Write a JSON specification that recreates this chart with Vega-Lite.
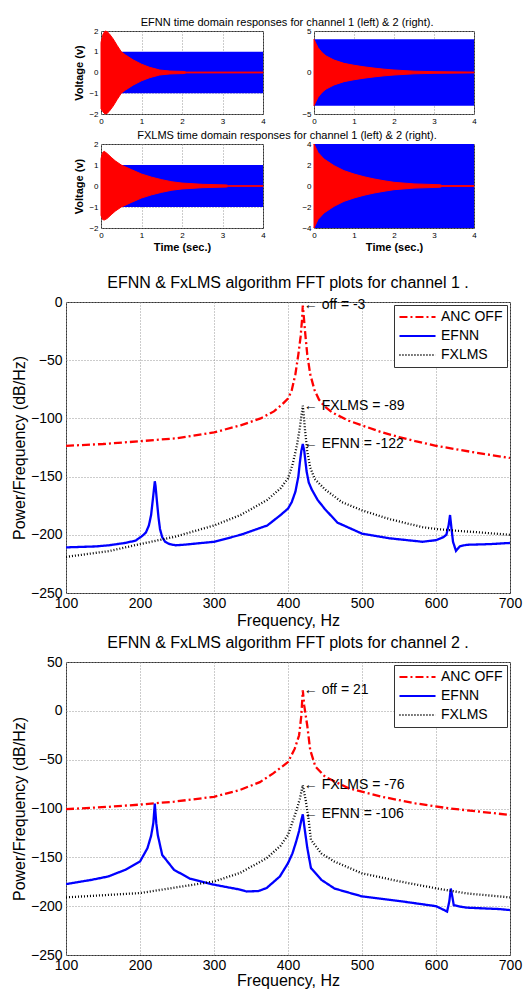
{
"$schema": "https://vega.github.io/schema/vega-lite/v6.json",
"background": "white",
"padding": {"left": 10, "top": 16, "right": 4, "bottom": 4},
"spacing": 21,
"resolve": {"scale": {"x": "independent", "y": "independent", "color": "independent", "strokeDash": "independent"}, "legend": {"color": "independent", "strokeDash": "independent"}},
"datasets": {
"td": [
{"p":"E1","s":"band","t":0,"hi":1,"lo":-1},{"p":"E1","s":"band","t":4,"hi":1,"lo":-1},
{"p":"E1","s":"resp","t":0,"hi":1.45,"lo":-1.75},{"p":"E1","s":"resp","t":0.05,"hi":1.85,"lo":-1.9},{"p":"E1","s":"resp","t":0.1,"hi":2.0,"lo":-2.0},{"p":"E1","s":"resp","t":0.15,"hi":1.97,"lo":-1.97},{"p":"E1","s":"resp","t":0.2,"hi":1.88,"lo":-1.88},{"p":"E1","s":"resp","t":0.3,"hi":1.62,"lo":-1.62},{"p":"E1","s":"resp","t":0.4,"hi":1.3,"lo":-1.3},{"p":"E1","s":"resp","t":0.5,"hi":1.0,"lo":-1.0},{"p":"E1","s":"resp","t":0.6,"hi":0.85,"lo":-0.85},{"p":"E1","s":"resp","t":0.8,"hi":0.6,"lo":-0.6},{"p":"E1","s":"resp","t":1.0,"hi":0.4,"lo":-0.4},{"p":"E1","s":"resp","t":1.2,"hi":0.25,"lo":-0.25},{"p":"E1","s":"resp","t":1.45,"hi":0.12,"lo":-0.12},{"p":"E1","s":"resp","t":1.7,"hi":0.07,"lo":-0.07},{"p":"E1","s":"resp","t":2.05,"hi":0.05,"lo":-0.05},{"p":"E1","s":"resp","t":2.1,"hi":0.02,"lo":-0.02},{"p":"E1","s":"resp","t":4,"hi":0.02,"lo":-0.02},
{"p":"E2","s":"band","t":0,"hi":4,"lo":-4},{"p":"E2","s":"band","t":4,"hi":4,"lo":-4},
{"p":"E2","s":"resp","t":0,"hi":4.0,"lo":-4.0},{"p":"E2","s":"resp","t":0.05,"hi":3.5,"lo":-3.5},{"p":"E2","s":"resp","t":0.1,"hi":3.0,"lo":-3.0},{"p":"E2","s":"resp","t":0.2,"hi":2.4,"lo":-2.4},{"p":"E2","s":"resp","t":0.3,"hi":2.0,"lo":-2.0},{"p":"E2","s":"resp","t":0.5,"hi":1.5,"lo":-1.5},{"p":"E2","s":"resp","t":0.75,"hi":1.1,"lo":-1.1},{"p":"E2","s":"resp","t":1.0,"hi":0.87,"lo":-0.87},{"p":"E2","s":"resp","t":1.25,"hi":0.68,"lo":-0.68},{"p":"E2","s":"resp","t":1.5,"hi":0.53,"lo":-0.53},{"p":"E2","s":"resp","t":1.75,"hi":0.4,"lo":-0.4},{"p":"E2","s":"resp","t":2.0,"hi":0.3,"lo":-0.3},{"p":"E2","s":"resp","t":2.5,"hi":0.16,"lo":-0.16},{"p":"E2","s":"resp","t":3.0,"hi":0.1,"lo":-0.1},{"p":"E2","s":"resp","t":4,"hi":0.05,"lo":-0.05},
{"p":"F1","s":"band","t":0,"hi":1,"lo":-1},{"p":"F1","s":"band","t":4,"hi":1,"lo":-1},
{"p":"F1","s":"resp","t":0,"hi":1.3,"lo":-1.4},{"p":"F1","s":"resp","t":0.04,"hi":1.6,"lo":-1.6},{"p":"F1","s":"resp","t":0.08,"hi":1.65,"lo":-1.62},{"p":"F1","s":"resp","t":0.15,"hi":1.55,"lo":-1.55},{"p":"F1","s":"resp","t":0.25,"hi":1.37,"lo":-1.37},{"p":"F1","s":"resp","t":0.35,"hi":1.2,"lo":-1.2},{"p":"F1","s":"resp","t":0.5,"hi":1.0,"lo":-1.0},{"p":"F1","s":"resp","t":0.75,"hi":0.78,"lo":-0.78},{"p":"F1","s":"resp","t":1.0,"hi":0.57,"lo":-0.57},{"p":"F1","s":"resp","t":1.25,"hi":0.42,"lo":-0.42},{"p":"F1","s":"resp","t":1.5,"hi":0.3,"lo":-0.3},{"p":"F1","s":"resp","t":1.75,"hi":0.2,"lo":-0.2},{"p":"F1","s":"resp","t":2.0,"hi":0.14,"lo":-0.14},{"p":"F1","s":"resp","t":2.5,"hi":0.08,"lo":-0.08},{"p":"F1","s":"resp","t":3.1,"hi":0.05,"lo":-0.05},{"p":"F1","s":"resp","t":3.15,"hi":0.015,"lo":-0.015},{"p":"F1","s":"resp","t":4,"hi":0.015,"lo":-0.015},
{"p":"F2","s":"band","t":0,"hi":4,"lo":-4},{"p":"F2","s":"band","t":4,"hi":4,"lo":-4},
{"p":"F2","s":"resp","t":0,"hi":4.0,"lo":-4.0},{"p":"F2","s":"resp","t":0.1,"hi":3.2,"lo":-3.2},{"p":"F2","s":"resp","t":0.25,"hi":2.57,"lo":-2.57},{"p":"F2","s":"resp","t":0.5,"hi":1.94,"lo":-1.94},{"p":"F2","s":"resp","t":0.75,"hi":1.46,"lo":-1.46},{"p":"F2","s":"resp","t":1.0,"hi":1.14,"lo":-1.14},{"p":"F2","s":"resp","t":1.25,"hi":0.88,"lo":-0.88},{"p":"F2","s":"resp","t":1.5,"hi":0.67,"lo":-0.67},{"p":"F2","s":"resp","t":1.75,"hi":0.5,"lo":-0.5},{"p":"F2","s":"resp","t":2.0,"hi":0.35,"lo":-0.35},{"p":"F2","s":"resp","t":2.5,"hi":0.2,"lo":-0.2},{"p":"F2","s":"resp","t":3.15,"hi":0.12,"lo":-0.12},{"p":"F2","s":"resp","t":3.2,"hi":0.04,"lo":-0.04},{"p":"F2","s":"resp","t":4,"hi":0.04,"lo":-0.04}
],
"fft1": [
{"s":"ANC OFF","f":100,"v":-123.6},{"s":"ANC OFF","f":150,"v":-122},{"s":"ANC OFF","f":200,"v":-119.6},{"s":"ANC OFF","f":250,"v":-117},{"s":"ANC OFF","f":300,"v":-112},{"s":"ANC OFF","f":336,"v":-106},{"s":"ANC OFF","f":363,"v":-100},{"s":"ANC OFF","f":381,"v":-94},{"s":"ANC OFF","f":392,"v":-88},{"s":"ANC OFF","f":400,"v":-83},{"s":"ANC OFF","f":405,"v":-76},{"s":"ANC OFF","f":410,"v":-62},{"s":"ANC OFF","f":414,"v":-45},{"s":"ANC OFF","f":417,"v":-30},{"s":"ANC OFF","f":419,"v":-15},{"s":"ANC OFF","f":420,"v":-3},{"s":"ANC OFF","f":421,"v":-10},{"s":"ANC OFF","f":423,"v":-25},{"s":"ANC OFF","f":426,"v":-45},{"s":"ANC OFF","f":430,"v":-62},{"s":"ANC OFF","f":436,"v":-76},{"s":"ANC OFF","f":442,"v":-84},{"s":"ANC OFF","f":450,"v":-90},{"s":"ANC OFF","f":460,"v":-95},{"s":"ANC OFF","f":482,"v":-102},{"s":"ANC OFF","f":500,"v":-106},{"s":"ANC OFF","f":527,"v":-112},{"s":"ANC OFF","f":550,"v":-116},{"s":"ANC OFF","f":572,"v":-119.5},{"s":"ANC OFF","f":600,"v":-123.5},{"s":"ANC OFF","f":650,"v":-129},{"s":"ANC OFF","f":700,"v":-134},
{"s":"EFNN","f":100,"v":-210.8},{"s":"EFNN","f":140,"v":-210},{"s":"EFNN","f":158,"v":-209},{"s":"EFNN","f":180,"v":-207},{"s":"EFNN","f":194,"v":-205},{"s":"EFNN","f":203,"v":-201},{"s":"EFNN","f":208,"v":-198},{"s":"EFNN","f":212,"v":-192},{"s":"EFNN","f":215,"v":-183},{"s":"EFNN","f":218,"v":-166},{"s":"EFNN","f":220,"v":-154},{"s":"EFNN","f":221,"v":-158},{"s":"EFNN","f":223,"v":-172},{"s":"EFNN","f":225,"v":-185},{"s":"EFNN","f":227,"v":-195},{"s":"EFNN","f":230,"v":-202},{"s":"EFNN","f":234,"v":-206},{"s":"EFNN","f":240,"v":-208},{"s":"EFNN","f":248,"v":-209},{"s":"EFNN","f":260,"v":-208.5},{"s":"EFNN","f":300,"v":-206},{"s":"EFNN","f":336,"v":-200},{"s":"EFNN","f":372,"v":-192},{"s":"EFNN","f":390,"v":-183},{"s":"EFNN","f":400,"v":-177.5},{"s":"EFNN","f":405,"v":-172},{"s":"EFNN","f":410,"v":-163},{"s":"EFNN","f":414,"v":-150},{"s":"EFNN","f":416,"v":-138},{"s":"EFNN","f":418,"v":-128},{"s":"EFNN","f":420,"v":-122},{"s":"EFNN","f":422,"v":-128},{"s":"EFNN","f":425,"v":-145},{"s":"EFNN","f":428,"v":-155},{"s":"EFNN","f":432,"v":-161},{"s":"EFNN","f":440,"v":-170},{"s":"EFNN","f":450,"v":-178},{"s":"EFNN","f":467,"v":-189.6},{"s":"EFNN","f":500,"v":-199},{"s":"EFNN","f":537,"v":-203},{"s":"EFNN","f":582,"v":-206},{"s":"EFNN","f":600,"v":-204.6},{"s":"EFNN","f":610,"v":-202},{"s":"EFNN","f":614,"v":-200},{"s":"EFNN","f":617,"v":-192},{"s":"EFNN","f":619,"v":-183},{"s":"EFNN","f":621,"v":-195},{"s":"EFNN","f":623,"v":-206},{"s":"EFNN","f":627,"v":-213.8},{"s":"EFNN","f":632,"v":-210},{"s":"EFNN","f":641,"v":-208.6},{"s":"EFNN","f":673,"v":-208},{"s":"EFNN","f":700,"v":-207},
{"s":"FXLMS","f":100,"v":-219},{"s":"FXLMS","f":158,"v":-214},{"s":"FXLMS","f":200,"v":-208},{"s":"FXLMS","f":248,"v":-201.5},{"s":"FXLMS","f":300,"v":-192},{"s":"FXLMS","f":336,"v":-183},{"s":"FXLMS","f":372,"v":-170},{"s":"FXLMS","f":390,"v":-160},{"s":"FXLMS","f":400,"v":-151.5},{"s":"FXLMS","f":406,"v":-140},{"s":"FXLMS","f":412,"v":-123.5},{"s":"FXLMS","f":416,"v":-108},{"s":"FXLMS","f":418,"v":-98},{"s":"FXLMS","f":420,"v":-89},{"s":"FXLMS","f":421,"v":-95},{"s":"FXLMS","f":423,"v":-110},{"s":"FXLMS","f":426,"v":-128},{"s":"FXLMS","f":430,"v":-142},{"s":"FXLMS","f":436,"v":-152},{"s":"FXLMS","f":450,"v":-161},{"s":"FXLMS","f":473,"v":-172},{"s":"FXLMS","f":500,"v":-179},{"s":"FXLMS","f":537,"v":-186.5},{"s":"FXLMS","f":582,"v":-193.5},{"s":"FXLMS","f":600,"v":-195},{"s":"FXLMS","f":627,"v":-196.5},{"s":"FXLMS","f":660,"v":-198},{"s":"FXLMS","f":700,"v":-200}
],
"fft2": [
{"s":"ANC OFF","f":100,"v":-100.7},{"s":"ANC OFF","f":157,"v":-98.3},{"s":"ANC OFF","f":200,"v":-96},{"s":"ANC OFF","f":246,"v":-93},{"s":"ANC OFF","f":300,"v":-88},{"s":"ANC OFF","f":335,"v":-81},{"s":"ANC OFF","f":362,"v":-73},{"s":"ANC OFF","f":380,"v":-64},{"s":"ANC OFF","f":400,"v":-52.5},{"s":"ANC OFF","f":409,"v":-39},{"s":"ANC OFF","f":415,"v":-25},{"s":"ANC OFF","f":418,"v":-5},{"s":"ANC OFF","f":420,"v":21},{"s":"ANC OFF","f":422,"v":5},{"s":"ANC OFF","f":424,"v":-5},{"s":"ANC OFF","f":426,"v":-15},{"s":"ANC OFF","f":430,"v":-40},{"s":"ANC OFF","f":437,"v":-57},{"s":"ANC OFF","f":450,"v":-67.4},{"s":"ANC OFF","f":482,"v":-79.4},{"s":"ANC OFF","f":527,"v":-88},{"s":"ANC OFF","f":572,"v":-94.7},{"s":"ANC OFF","f":617,"v":-99.8},{"s":"ANC OFF","f":700,"v":-106.6},
{"s":"EFNN","f":100,"v":-177.4},{"s":"EFNN","f":135,"v":-173},{"s":"EFNN","f":157,"v":-169.6},{"s":"EFNN","f":180,"v":-162.8},{"s":"EFNN","f":200,"v":-154.3},{"s":"EFNN","f":210,"v":-140.8},{"s":"EFNN","f":215,"v":-128},{"s":"EFNN","f":218,"v":-115},{"s":"EFNN","f":220,"v":-95},{"s":"EFNN","f":222,"v":-115},{"s":"EFNN","f":224,"v":-127},{"s":"EFNN","f":230,"v":-147.5},{"s":"EFNN","f":246,"v":-162.8},{"s":"EFNN","f":268,"v":-172},{"s":"EFNN","f":300,"v":-178},{"s":"EFNN","f":335,"v":-183},{"s":"EFNN","f":344,"v":-185},{"s":"EFNN","f":360,"v":-184.5},{"s":"EFNN","f":371,"v":-181.5},{"s":"EFNN","f":389,"v":-169.6},{"s":"EFNN","f":400,"v":-156},{"s":"EFNN","f":406,"v":-146},{"s":"EFNN","f":411,"v":-134},{"s":"EFNN","f":415,"v":-123},{"s":"EFNN","f":418,"v":-112},{"s":"EFNN","f":420,"v":-106},{"s":"EFNN","f":422,"v":-118},{"s":"EFNN","f":426,"v":-140},{"s":"EFNN","f":431,"v":-161},{"s":"EFNN","f":445,"v":-173},{"s":"EFNN","f":463,"v":-182},{"s":"EFNN","f":500,"v":-190},{"s":"EFNN","f":553,"v":-195},{"s":"EFNN","f":600,"v":-200},{"s":"EFNN","f":611,"v":-204},{"s":"EFNN","f":615,"v":-205.6},{"s":"EFNN","f":618,"v":-195},{"s":"EFNN","f":620,"v":-182},{"s":"EFNN","f":622,"v":-190},{"s":"EFNN","f":624,"v":-199},{"s":"EFNN","f":633,"v":-200.5},{"s":"EFNN","f":641,"v":-201.5},{"s":"EFNN","f":686,"v":-203},{"s":"EFNN","f":700,"v":-204},
{"s":"FXLMS","f":100,"v":-191},{"s":"FXLMS","f":200,"v":-186.6},{"s":"FXLMS","f":300,"v":-174.7},{"s":"FXLMS","f":335,"v":-166},{"s":"FXLMS","f":371,"v":-151},{"s":"FXLMS","f":390,"v":-138},{"s":"FXLMS","f":400,"v":-127},{"s":"FXLMS","f":411,"v":-103},{"s":"FXLMS","f":416,"v":-90},{"s":"FXLMS","f":420,"v":-76},{"s":"FXLMS","f":424,"v":-92},{"s":"FXLMS","f":428,"v":-112},{"s":"FXLMS","f":431,"v":-132},{"s":"FXLMS","f":445,"v":-146},{"s":"FXLMS","f":463,"v":-154.4},{"s":"FXLMS","f":500,"v":-166.4},{"s":"FXLMS","f":553,"v":-175},{"s":"FXLMS","f":600,"v":-181.7},{"s":"FXLMS","f":641,"v":-186.9},{"s":"FXLMS","f":700,"v":-191}
],
"ann1": [
{"f":420,"v":-3,"label":"← off = -3"},{"f":420,"v":-89,"label":"← FXLMS = -89"},{"f":420,"v":-122,"label":"← EFNN = -122"}
],
"ann2": [
{"f":420,"v":21,"label":"← off = 21"},{"f":420,"v":-76,"label":"← FXLMS = -76"},{"f":420,"v":-106,"label":"← EFNN = -106"}
]
},
"vconcat": [
{
"spacing": 3,
"resolve": {"scale": {"x": "independent", "y": "independent"}},
"vconcat": [
{
"spacing": 0,
"resolve": {"scale": {"x": "independent", "y": "independent"}},
"hconcat": [
{"width": 7, "height": 20, "view": {"stroke": null}, "data": {"values": []}, "mark": "point", "encoding": {}},
{
"spacing": 35,
"title": {"text": "EFNN time domain responses for channel 1 (left) & 2 (right).", "fontSize": 11, "offset": -1, "anchor": "middle", "dx": 12},
"resolve": {"scale": {"x": "independent", "y": "independent"}},
"hconcat": [
{
"width": 162, "height": 83,
"data": {"name": "td"},
"transform": [{"filter": "datum.p === 'E1'"}],
"encoding": {
"x": {"field": "t", "type": "quantitative", "scale": {"domain": [0, 4], "nice": false}, "axis": {"values": [0,1,2,3,4], "title": null, "labelFontSize": 8, "labelPadding": 3}},
"y": {"field": "hi", "type": "quantitative", "scale": {"domain": [-2, 2], "nice": false}, "axis": {"values": [-2,-1,0,1,2], "title": "Voltage (v)", "titleFontSize": 11, "titleFontWeight": "bold", "labelFontSize": 8, "labelPadding": 3, "titlePadding": 4}},
"y2": {"field": "lo"}
},
"layer": [
{"transform": [{"filter": "datum.s === 'band'"}], "mark": {"type": "area", "color": "#0000ff", "opacity": 1}},
{"transform": [{"filter": "datum.s === 'resp'"}], "mark": {"type": "area", "color": "#ff0000", "stroke": "#ff0000", "strokeWidth": 1, "opacity": 1}}
]
},
{
"width": 160, "height": 83,
"data": {"name": "td"},
"transform": [{"filter": "datum.p === 'E2'"}],
"encoding": {
"x": {"field": "t", "type": "quantitative", "scale": {"domain": [0, 4], "nice": false}, "axis": {"values": [0,1,2,3,4], "title": null, "labelFontSize": 8, "labelPadding": 3}},
"y": {"field": "hi", "type": "quantitative", "scale": {"domain": [-5, 5], "nice": false}, "axis": {"values": [-5,0,5], "title": null, "labelFontSize": 8, "labelPadding": 3}},
"y2": {"field": "lo"}
},
"layer": [
{"transform": [{"filter": "datum.s === 'band'"}], "mark": {"type": "area", "color": "#0000ff", "opacity": 1}},
{"transform": [{"filter": "datum.s === 'resp'"}], "mark": {"type": "area", "color": "#ff0000", "stroke": "#ff0000", "strokeWidth": 1, "opacity": 1}}
]
}
]
}
]
},
{
"spacing": 0,
"resolve": {"scale": {"x": "independent", "y": "independent"}},
"hconcat": [
{"width": 7, "height": 20, "view": {"stroke": null}, "data": {"values": []}, "mark": "point", "encoding": {}},
{
"spacing": 35,
"title": {"text": "FXLMS time domain responses for channel 1 (left) & 2 (right).", "fontSize": 11, "offset": -1, "anchor": "middle", "dx": 12},
"resolve": {"scale": {"x": "independent", "y": "independent"}},
"hconcat": [
{
"width": 162, "height": 84,
"data": {"name": "td"},
"transform": [{"filter": "datum.p === 'F1'"}],
"encoding": {
"x": {"field": "t", "type": "quantitative", "scale": {"domain": [0, 4], "nice": false}, "axis": {"values": [0,1,2,3,4], "title": "Time (sec.)", "titleFontSize": 11, "titleFontWeight": "bold", "labelFontSize": 8, "labelPadding": 3, "titlePadding": 2}},
"y": {"field": "hi", "type": "quantitative", "scale": {"domain": [-2, 2], "nice": false}, "axis": {"values": [-2,-1,0,1,2], "title": "Voltage (v)", "titleFontSize": 11, "titleFontWeight": "bold", "labelFontSize": 8, "labelPadding": 3, "titlePadding": 4}},
"y2": {"field": "lo"}
},
"layer": [
{"transform": [{"filter": "datum.s === 'band'"}], "mark": {"type": "area", "color": "#0000ff", "opacity": 1}},
{"transform": [{"filter": "datum.s === 'resp'"}], "mark": {"type": "area", "color": "#ff0000", "stroke": "#ff0000", "strokeWidth": 1, "opacity": 1}}
]
},
{
"width": 160, "height": 84,
"data": {"name": "td"},
"transform": [{"filter": "datum.p === 'F2'"}],
"encoding": {
"x": {"field": "t", "type": "quantitative", "scale": {"domain": [0, 4], "nice": false}, "axis": {"values": [0,1,2,3,4], "title": "Time (sec.)", "titleFontSize": 11, "titleFontWeight": "bold", "labelFontSize": 8, "labelPadding": 3, "titlePadding": 2}},
"y": {"field": "hi", "type": "quantitative", "scale": {"domain": [-4, 4], "nice": false}, "axis": {"values": [-4,-2,0,2,4], "title": null, "labelFontSize": 8, "labelPadding": 3}},
"y2": {"field": "lo"}
},
"layer": [
{"transform": [{"filter": "datum.s === 'band'"}], "mark": {"type": "area", "color": "#0000ff", "opacity": 1}},
{"transform": [{"filter": "datum.s === 'resp'"}], "mark": {"type": "area", "color": "#ff0000", "stroke": "#ff0000", "strokeWidth": 1, "opacity": 1}}
]
}
]
}
]
}
]
},
{
"spacing": 5,
"resolve": {"scale": {"x": "independent", "y": "independent", "color": "independent", "strokeDash": "independent"}, "legend": {"color": "independent", "strokeDash": "independent"}},
"vconcat": [
{
"width": 444, "height": 291,
"title": {"text": "EFNN & FxLMS algorithm FFT plots for channel 1 .", "fontSize": 16, "offset": 4, "anchor": "middle"},
"layer": [
{
"data": {"name": "fft1"},
"mark": {"type": "line", "strokeWidth": 2.3, "clip": true},
"encoding": {
"x": {"field": "f", "type": "quantitative", "scale": {"domain": [100, 700], "nice": false}, "axis": {"values": [100,200,300,400,500,600,700], "title": "Frequency, Hz", "labelFontSize": 14, "titleFontSize": 16, "labelPadding": 3, "titlePadding": 2}},
"y": {"field": "v", "type": "quantitative", "scale": {"domain": [-250, 0], "nice": false}, "axis": {"values": [-250,-200,-150,-100,-50,0], "title": "Power/Frequency (dB/Hz)", "labelFontSize": 14, "titleFontSize": 16, "labelPadding": 4, "titlePadding": 3}},
"color": {"field": "s", "type": "nominal", "scale": {"domain": ["ANC OFF", "EFNN", "FXLMS"], "range": ["#ff0000", "#0000ff", "#000000"]}, "legend": {"title": null}},
"strokeDash": {"field": "s", "type": "nominal", "scale": {"domain": ["ANC OFF", "EFNN", "FXLMS"], "range": [[8,3,2,3],[1,0],[1,2]]}, "legend": {"title": null}}
}
},
{
"data": {"name": "ann1"},
"mark": {"type": "text", "align": "left", "baseline": "middle", "dx": 1, "fontSize": 14, "color": "#000"},
"encoding": {
"x": {"field": "f", "type": "quantitative"},
"y": {"field": "v", "type": "quantitative"},
"text": {"field": "label"}
}
}
]
},
{
"width": 444, "height": 293,
"title": {"text": "EFNN & FxLMS algorithm FFT plots for channel 2 .", "fontSize": 16, "offset": 4, "anchor": "middle"},
"layer": [
{
"data": {"name": "fft2"},
"mark": {"type": "line", "strokeWidth": 2.3, "clip": true},
"encoding": {
"x": {"field": "f", "type": "quantitative", "scale": {"domain": [100, 700], "nice": false}, "axis": {"values": [100,200,300,400,500,600,700], "title": "Frequency, Hz", "labelFontSize": 14, "titleFontSize": 16, "labelPadding": 3, "titlePadding": 0}},
"y": {"field": "v", "type": "quantitative", "scale": {"domain": [-250, 50], "nice": false}, "axis": {"values": [-250,-200,-150,-100,-50,0,50], "title": "Power/Frequency (dB/Hz)", "labelFontSize": 14, "titleFontSize": 16, "labelPadding": 4, "titlePadding": 3}},
"color": {"field": "s", "type": "nominal", "scale": {"domain": ["ANC OFF", "EFNN", "FXLMS"], "range": ["#ff0000", "#0000ff", "#000000"]}, "legend": {"title": null}},
"strokeDash": {"field": "s", "type": "nominal", "scale": {"domain": ["ANC OFF", "EFNN", "FXLMS"], "range": [[8,3,2,3],[1,0],[1,2]]}, "legend": {"title": null}}
}
},
{
"data": {"name": "ann2"},
"mark": {"type": "text", "align": "left", "baseline": "middle", "dx": 1, "fontSize": 14, "color": "#000"},
"encoding": {
"x": {"field": "f", "type": "quantitative"},
"y": {"field": "v", "type": "quantitative"},
"text": {"field": "label"}
}
}
]
}
]
}
],
"config": {
"font": "Liberation Sans",
"view": {"stroke": "#333", "strokeWidth": 1},
"axis": {"labelFlush": false, "labelOverlap": false, "grid": true, "gridDash": [1, 2], "gridColor": "#999", "gridOpacity": 1, "ticks": false, "domain": false, "labelColor": "#000", "titleColor": "#000", "titleFontWeight": "normal"},
"title": {"fontWeight": "normal", "color": "#000"},
"legend": {"orient": "top-right", "offset": 3, "fillColor": "#fff", "strokeColor": "#333", "padding": 4, "labelFontSize": 14, "labelColor": "#000", "symbolType": "stroke", "symbolSize": 1300, "symbolStrokeWidth": 2, "labelOffset": 4, "clipHeight": 16, "rowPadding": 3}
}
}
